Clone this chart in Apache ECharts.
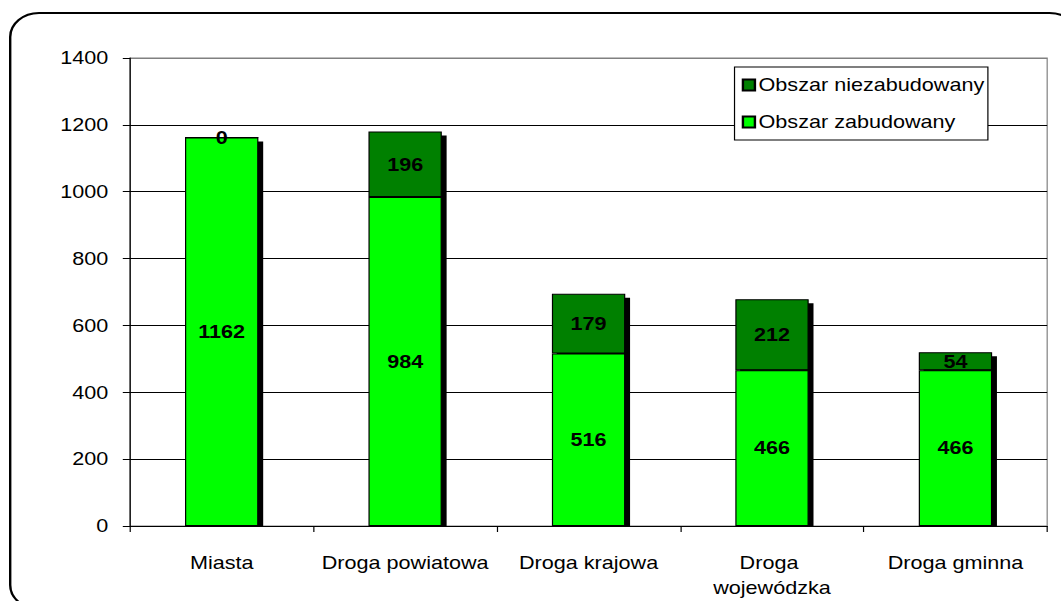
<!DOCTYPE html>
<html>
<head>
<meta charset="utf-8">
<script src="https://cdn.jsdelivr.net/npm/echarts@6/dist/echarts.min.js"></script>
<style>
  html, body { margin: 0; padding: 0; background: #fff; overflow: hidden; }
  /* drawn on a narrower canvas, then widened to the page width */
  #chart { width: 884px; height: 601px; transform: scaleX(1.2002); transform-origin: 0 0; }
</style>
</head>
<body>
<div id="chart"></div>
<script>
// Liczba zdarzeń wg rodzaju drogi
const categories = ['Miasta', 'Droga powiatowa', 'Droga krajowa', 'Droga wojewódzka', 'Droga gminna'];
const builtUp = [1162, 984, 516, 466, 466];      // Obszar zabudowany
const nonBuiltUp = [0, 196, 179, 212, 54];       // Obszar niezabudowany
const yTicks = { min: 0, max: 1400, interval: 200 };

const FONT = '"Liberation Sans", Arial, sans-serif';
const totals = categories.map((c, i) => [i, builtUp[i] + nonBuiltUp[i]]);

const chart = echarts.init(document.getElementById('chart'), null, { renderer: 'svg' });

const labelStyle = {
  show: true,
  position: 'inside',
  color: '#000',
  fontFamily: FONT,
  fontWeight: 'bold',
  fontSize: 18
};

chart.setOption({
  animation: false,
  backgroundColor: '#fff',
  textStyle: { fontFamily: FONT },
  graphic: [{
    type: 'rect',
    z: -10,
    shape: { x: 8.5, y: 13, width: 890, height: 596, r: 24 },
    style: { fill: 'none', stroke: '#000', lineWidth: 2 }
  }],
  grid: {
    left: 108.3, right: 11.5, top: 58, bottom: 75,
    show: true, borderColor: '#808080', borderWidth: 1, backgroundColor: 'transparent'
  },
  legend: {
    orient: 'vertical',
    left: 612, top: 67,
    data: ['Obszar niezabudowany', 'Obszar zabudowany'],
    backgroundColor: '#fff',
    borderColor: '#000', borderWidth: 1,
    padding: [9, 3, 9, 6],
    itemWidth: 10, itemHeight: 11, itemGap: 19,
    icon: 'rect',
    textStyle: { fontFamily: FONT, fontSize: 18, color: '#000', padding: [0, 0, 0, -2] }
  },
  xAxis: {
    type: 'category',
    data: categories,
    axisLine: { lineStyle: { color: '#000', width: 1 } },
    axisTick: { show: true, length: 6, lineStyle: { color: '#000' } },
    axisLabel: {
      interval: 0,
      color: '#000', fontFamily: FONT, fontSize: 18, margin: 24, lineHeight: 25,
      width: 148, overflow: 'break'
    }
  },
  yAxis: {
    type: 'value',
    min: yTicks.min, max: yTicks.max, interval: yTicks.interval,
    axisLine: { show: true, lineStyle: { color: '#000', width: 1 } },
    axisTick: { show: true, length: 6, lineStyle: { color: '#000' } },
    axisLabel: {
      color: '#000', fontFamily: FONT, fontSize: 18, margin: 18,
      formatter: function (v) { return String(v); }
    },
    splitLine: {
      show: true,
      lineStyle: { color: ['#000', '#000', '#000', '#000', '#000', '#000', '#000', '#808080'], width: 1 }
    }
  },
  series: [
    {
      // drop shadow behind each stacked column
      type: 'custom',
      z: 1,
      silent: true,
      data: totals,
      renderItem: function (params, api) {
        const top = api.coord([api.value(0), api.value(1)]);
        const base = api.coord([api.value(0), 0]);
        const bw = api.size([1, 0])[0] * 0.4;
        const off = 4;
        return {
          type: 'rect',
          shape: { x: top[0] - bw / 2 + off, y: top[1] + off, width: bw, height: base[1] - top[1] - off },
          style: { fill: '#000' }
        };
      }
    },
    {
      name: 'Obszar zabudowany',
      type: 'bar',
      stack: 'total',
      z: 3,
      barWidth: '40%',
      data: builtUp,
      itemStyle: { color: '#00ff00', borderColor: '#000', borderWidth: 1 },
      label: labelStyle
    },
    {
      name: 'Obszar niezabudowany',
      type: 'bar',
      stack: 'total',
      z: 3,
      barWidth: '40%',
      data: nonBuiltUp,
      itemStyle: { color: '#008000', borderColor: '#000', borderWidth: 1 },
      label: labelStyle
    }
  ]
});
</script>
</body>
</html>
